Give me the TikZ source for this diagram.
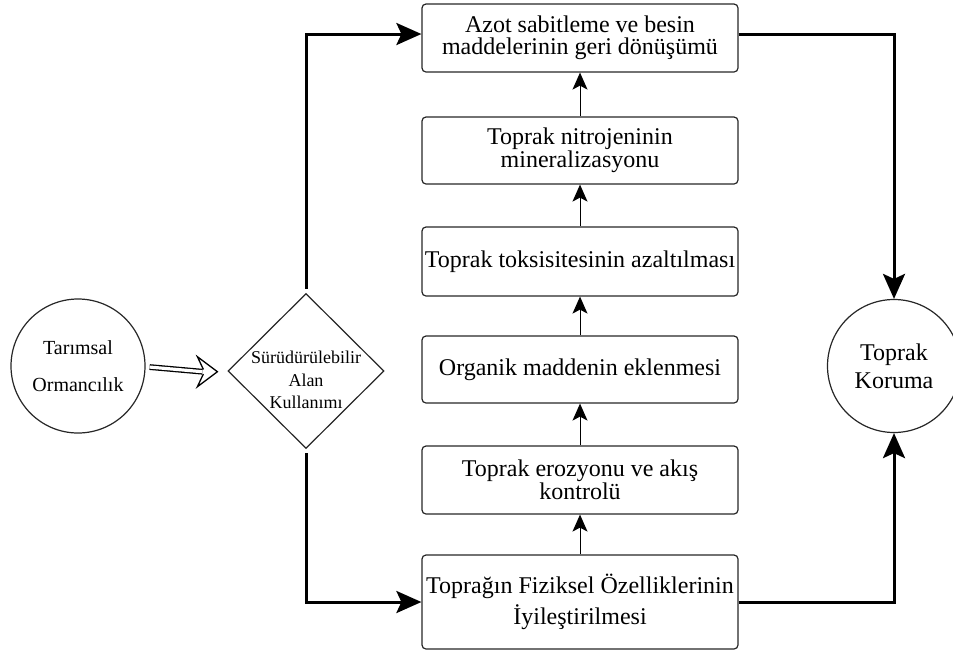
\documentclass[tikz,border=0pt]{standalone}
\usepackage{fontspec}
\setmainfont{Liberation Serif}
\usetikzlibrary{shapes.geometric,arrows.meta,calc}
\begin{document}
\begin{tikzpicture}[x=1pt,y=-1pt,
  box/.style={draw=black!85, line width=1.2pt, rounded corners=4pt,
    minimum width=316pt, inner sep=0pt, align=center,
    font=\fontsize{24}{22.5}\selectfont},
  roundnode/.style={circle, draw=black!85, line width=1.2pt, inner sep=0pt,
    align=center},
  flow/.style={line width=1pt, -{Stealth[length=17pt,width=15pt,inset=4pt]}},
  link/.style={line width=3pt, -{Stealth[length=25pt,width=22pt,inset=5pt]}},
  dblline/.style={line width=1.3pt, double distance=3.2pt},
  openhead/.style={line width=1.3pt, fill=white, line join=miter}]
\useasboundingbox (0,0) rectangle (953,657);

% central column of steps
\node[box, minimum height=68pt] (b1) at (580,38)
  {Azot sabitleme ve besin\\maddelerinin geri dönüşümü};
\node[box, minimum height=67pt] (b2) at (580,150.5)
  {Toprak nitrojeninin\\mineralizasyonu};
\node[box, minimum height=69pt] (b3) at (580,261.5)
  {Toprak toksisitesinin azaltılması};
\node[box, minimum height=67pt] (b4) at (580,369.5)
  {Organik maddenin eklenmesi};
\node[box, minimum height=68pt] (b5) at (580,480)
  {Toprak erozyonu ve akış\\kontrolü};
\node[box, minimum height=94pt] (b6) at (580,602)
  {Toprağın Fiziksel Özelliklerinin\\[5pt]İyileştirilmesi};

% side nodes
\node[roundnode, minimum size=134pt, font=\fontsize{20}{37}\selectfont]
  (t) at (78,366) {Tarımsal\\Ormancılık};
\node[roundnode, minimum size=133pt, font=\fontsize{24}{28}\selectfont]
  (tk) at (894,366) {Toprak\\Koruma};
\node[diamond, draw=black!85, line width=1.2pt, minimum width=156pt,
  minimum height=155pt, inner sep=0pt] (d) at (306,371) {};
\node[align=center, inner sep=0pt, font=\fontsize{18}{22.5}\selectfont]
  (dl) at (306,380) {Sürüdürülebilir\\Alan\\Kullanımı};

% upward flow between steps
\draw[flow] (b6.north) -- (b5.south);
\draw[flow] (b5.north) -- (b4.south);
\draw[flow] (b4.north) -- (b3.south);
\draw[flow] (b3.north) -- (b2.south);
\draw[flow] (b2.north) -- (b1.south);

% double arrow with an open head
\coordinate (tip) at ($(d.west)+(-10,0.7)$);
\draw[dblline, shorten <=4pt] ($(t.east)+(0,0.7)$) -- ($(tip)+(-15,0)$);
\draw[openhead] ($(tip)+(-14,-2.25)$) -- ($(tip)+(-20,-15)$) -- (tip)
  -- ($(tip)+(-20,15)$) -- ($(tip)+(-14,2.25)$);

% main connectors
\draw[link, shorten <=4pt] (d.north) |- ([yshift=4pt]b1.west);
\draw[link] ([yshift=4pt]b1.east) -| (tk.north);
\draw[link, shorten <=4pt] (d.south) |- (b6.west);
\draw[link] (b6.east) -| (tk.south);
\end{tikzpicture}
\end{document}
